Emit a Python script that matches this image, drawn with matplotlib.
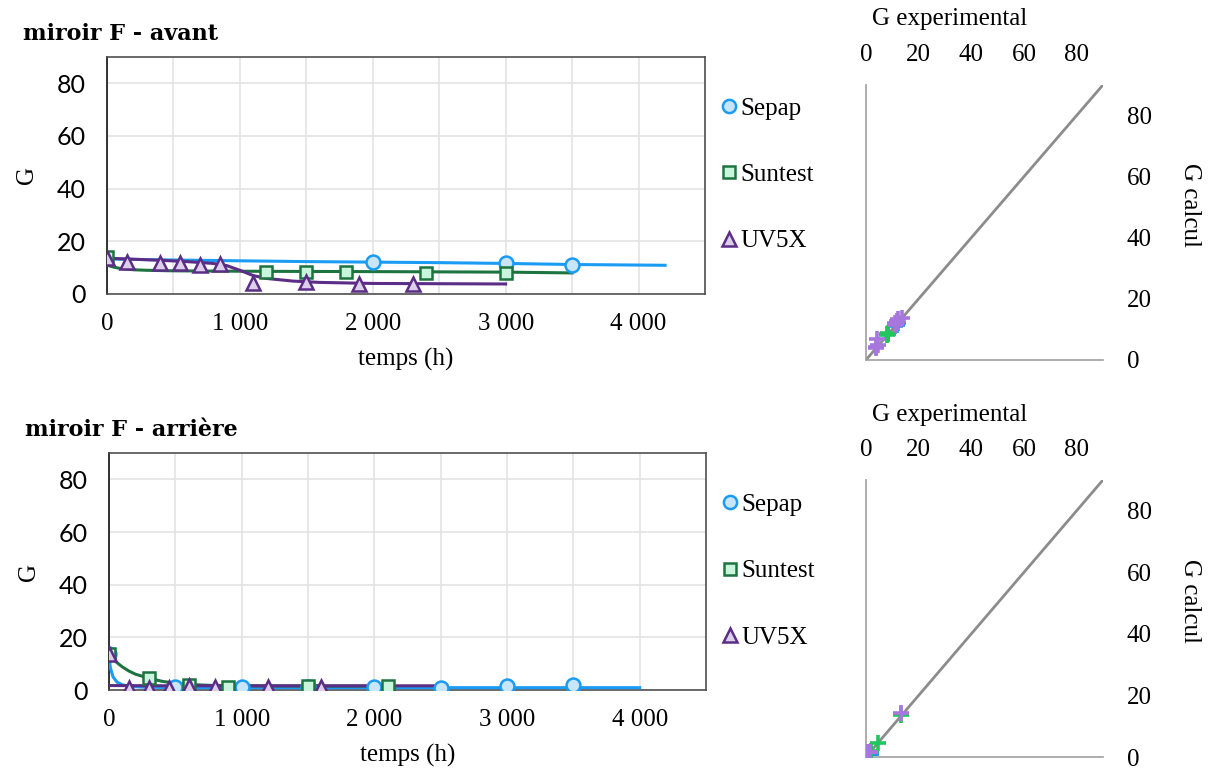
import matplotlib
matplotlib.use("Agg")
import matplotlib.pyplot as plt

SERIF = "Liberation Serif"
SANS = "Lato"

# --- miroir F - avant : points experimentaux ---
top_sepap_t = [2000, 3000, 3500]
top_sepap_g = [12.0, 11.8, 11.0]
top_suntest_t = [0, 1200, 1500, 1800, 2400, 3000]
top_suntest_g = [14.0, 8.5, 8.5, 8.5, 8.1, 8.0]
top_uv_t = [0, 150, 400, 550, 700, 850, 1100, 1500, 1900, 2300]
top_uv_g = [13.7, 12.2, 11.8, 11.8, 11.1, 11.4, 4.2, 4.6, 3.8, 3.8]

# --- miroir F - avant : courbes modele ---
top_sepap_mt = [0, 500, 1000, 1500, 2000, 2500, 3000, 3500, 4200]
top_sepap_mg = [13.3, 12.9, 12.6, 12.3, 12.1, 11.9, 11.6, 11.2, 10.9]
top_suntest_mt = [0, 50, 100, 200, 300, 500, 800, 1200, 2000, 2500, 3000, 3500]
top_suntest_mg = [11.0, 10.2, 9.7, 9.2, 9.0, 8.8, 8.7, 8.6, 8.5, 8.4, 8.3, 8.0]
top_uv_mt = [0, 200, 400, 600, 800, 900, 1000, 1100, 1200, 1400, 1600, 2000, 2500, 3000]
top_uv_mg = [13.6, 13.2, 12.8, 12.3, 11.6, 10.8, 9.0, 7.0, 5.9, 4.9, 4.4, 4.0, 3.9, 3.8]

# --- miroir F - arriere : points experimentaux ---
bot_sepap_t = [0, 500, 1000, 1500, 2000, 2500, 3000, 3500]
bot_sepap_g = [13.5, 1.0, 1.0, 1.0, 1.0, 0.9, 1.5, 2.0]
bot_suntest_t = [0, 300, 600, 900, 1500, 2100]
bot_suntest_g = [13.5, 4.6, 1.9, 1.0, 1.5, 1.5]
bot_uv_t = [0, 150, 300, 450, 600, 800, 1200, 1600]
bot_uv_g = [13.5, 0.8, 0.8, 0.8, 1.5, 1.2, 1.0, 1.2]

# --- miroir F - arriere : courbes modele ---
bot_sepap_mt = [0, 10, 30, 60, 100, 150, 250, 500, 1000, 2000, 3000, 4000]
bot_sepap_mg = [13.5, 8.5, 5.0, 3.0, 2.0, 1.4, 1.1, 0.9, 0.9, 0.9, 0.9, 0.9]
bot_suntest_mt = [0, 50, 100, 150, 200, 300, 400, 500, 600, 800, 1000, 1500, 2100]
bot_suntest_mg = [13.5, 10.8, 8.8, 7.2, 6.0, 4.5, 3.3, 2.6, 2.1, 1.7, 1.6, 1.5, 1.5]
bot_uv_mt = [0, 500, 1000, 1500, 2000, 2500]
bot_uv_mg = [1.7, 1.6, 1.6, 1.6, 1.6, 1.6]

# --- G calcul vs G experimental ---
top_sc_sepap_exp = [12.0, 11.8, 11.0]
top_sc_sepap_calc = [12.1, 11.6, 11.2]
top_sc_suntest_exp = [8.5, 8.5, 8.5, 8.1, 8.0]
top_sc_suntest_calc = [8.8, 8.6, 8.5, 8.4, 8.3]
top_sc_uv_exp = [13.7, 12.2, 11.8, 11.8, 11.1, 11.4, 4.2, 4.6, 3.8, 3.8]
top_sc_uv_calc = [13.6, 13.3, 12.8, 12.5, 12.0, 11.4, 6.8, 4.9, 4.2, 3.9]

bot_sc_sepap_exp = [1.0, 1.0, 1.0, 1.0, 0.9, 1.5, 2.0]
bot_sc_sepap_calc = [0.9, 0.9, 0.9, 0.9, 0.9, 0.9, 0.9]
bot_sc_suntest_exp = [13.5, 4.6, 1.9, 1.0, 1.5, 1.5]
bot_sc_suntest_calc = [13.5, 4.5, 2.1, 1.6, 1.5, 1.5]
bot_sc_uv_exp = [13.5, 0.8, 0.8, 0.8, 1.5, 1.2, 1.0, 1.2]
bot_sc_uv_calc = [14.3, 1.6, 1.6, 1.6, 1.6, 1.6, 1.6, 1.6]

x_ticks = [0, 1000, 2000, 3000, 4000]
x_tick_labels = ["0", "1 000", "2 000", "3 000", "4 000"]
y_ticks = [0, 20, 40, 60, 80]

C_SEPAP = "#1A9CF5"
C_SUNTEST = "#1D7440"
C_UV = "#5B2D86"


def time_panel(ax, pts, models, title):
    (st, sg), (sut, sug), (ut, ug) = pts
    (smt, smg), (sumt, sumg), (umt, umg) = models
    ax.plot(smt, smg, color=C_SEPAP, lw=2.2, zorder=3)
    ax.plot(sumt, sumg, color=C_SUNTEST, lw=2.2, zorder=3)
    ax.plot(umt, umg, color=C_UV, lw=2.2, zorder=3)
    ax.plot(st, sg, "o", ms=10, mfc="#C8E5FA", mec=C_SEPAP, mew=1.8,
            ls="none", label="Sepap", zorder=4)
    ax.plot(sut, sug, "s", ms=8.5, mfc="#C9F5DC", mec=C_SUNTEST, mew=1.8,
            ls="none", label="Suntest", zorder=5)
    ax.plot(ut, ug, "^", ms=10, mfc="#DCCFEA", mec=C_UV, mew=1.8,
            ls="none", label="UV5X", zorder=6)

    ax.set_xlim(0, 4500)
    ax.set_ylim(0, 90)
    ax.set_xticks(x_ticks, x_tick_labels, fontfamily=SERIF, fontsize=18)
    ax.set_xticks(range(0, 4501, 500), minor=True)
    ax.set_yticks(y_ticks, [str(v) for v in y_ticks], fontfamily=SANS, fontsize=18)
    ax.tick_params(which="both", length=0)
    ax.tick_params(axis="x", pad=14)
    ax.tick_params(axis="y", pad=15)
    ax.grid(True, which="both", color="#E3E3E3", lw=1.2)
    ax.set_axisbelow(True)
    for s in ax.spines.values():
        s.set_color("#505050")
        s.set_linewidth(1.2)
    ax.spines["left"].set_color("#111111")
    ax.set_xlabel("temps (h)", fontfamily=SERIF, fontsize=18, labelpad=9)
    ax.set_ylabel("G", fontfamily=SERIF, fontsize=18, labelpad=14)
    ax.legend(loc="upper left", bbox_to_anchor=(0.978, 0.924), frameon=False,
              prop={"family": SERIF, "size": 18}, labelspacing=1.75,
              handletextpad=-0.15, handlelength=1.2, markerscale=0.95)
    ax.text(-0.14, 1.05, title, transform=ax.transAxes, fontfamily="DejaVu Serif",
            fontweight="bold", fontsize=16, ha="left", va="bottom")


def scatter_panel(ax, data):
    ax.plot([0, 90], [0, 90], color="#8C8C8C", lw=2, zorder=2)
    for (ex, ca), col in zip(data, ["#2E90F0", "#22C55E", "#A777DD"]):
        ax.plot(ex, ca, "+", ms=11, mew=2.6, color=col, ls="none", zorder=3)
    ax.set_xlim(0, 90)
    ax.set_ylim(0, 90)
    ax.xaxis.tick_top()
    ax.xaxis.set_label_position("top")
    ax.yaxis.tick_right()
    ax.yaxis.set_label_position("right")
    ax.set_xticks(y_ticks, [str(v) for v in y_ticks], fontfamily=SERIF, fontsize=18)
    ax.set_yticks(y_ticks, [str(v) for v in y_ticks], fontfamily=SERIF, fontsize=18)
    ax.tick_params(length=0)
    ax.tick_params(axis="x", pad=14)
    ax.tick_params(axis="y", pad=17)
    for s in ["top", "right"]:
        ax.spines[s].set_visible(False)
    for s in ["left", "bottom"]:
        ax.spines[s].set_color("#A0A0A0")
        ax.spines[s].set_linewidth(1.2)
    ax.set_xlabel("G experimental", fontfamily=SERIF, fontsize=18, labelpad=13)
    ax.xaxis.label.set_x(0.355)
    ax.set_ylabel("G calcul", fontfamily=SERIF, fontsize=18, rotation=-90,
                  labelpad=20, va="bottom")
    ax.yaxis.label.set_y(0.565)


fig = plt.figure(figsize=(12.14, 7.69), dpi=100)

ax1 = fig.add_axes([0.0881, 0.6177, 0.4926, 0.3082])
time_panel(ax1,
           [(top_sepap_t, top_sepap_g), (top_suntest_t, top_suntest_g), (top_uv_t, top_uv_g)],
           [(top_sepap_mt, top_sepap_mg), (top_suntest_mt, top_suntest_mg), (top_uv_mt, top_uv_mg)],
           "miroir F - avant")

ax2 = fig.add_axes([0.0898, 0.1027, 0.4918, 0.3082])
time_panel(ax2,
           [(bot_sepap_t, bot_sepap_g), (bot_suntest_t, bot_suntest_g), (bot_uv_t, bot_uv_g)],
           [(bot_sepap_mt, bot_sepap_mg), (bot_suntest_mt, bot_suntest_mg), (bot_uv_mt, bot_uv_mg)],
           "miroir F - arrière")

ax3 = fig.add_axes([0.7133, 0.5319, 0.1952, 0.3576])
scatter_panel(ax3, [(top_sc_sepap_exp, top_sc_sepap_calc),
                    (top_sc_suntest_exp, top_sc_suntest_calc),
                    (top_sc_uv_exp, top_sc_uv_calc)])

ax4 = fig.add_axes([0.7133, 0.0156, 0.1952, 0.3602])
scatter_panel(ax4, [(bot_sc_sepap_exp, bot_sc_sepap_calc),
                    (bot_sc_suntest_exp, bot_sc_suntest_calc),
                    (bot_sc_uv_exp, bot_sc_uv_calc)])

fig.savefig("out.png", dpi=100)
